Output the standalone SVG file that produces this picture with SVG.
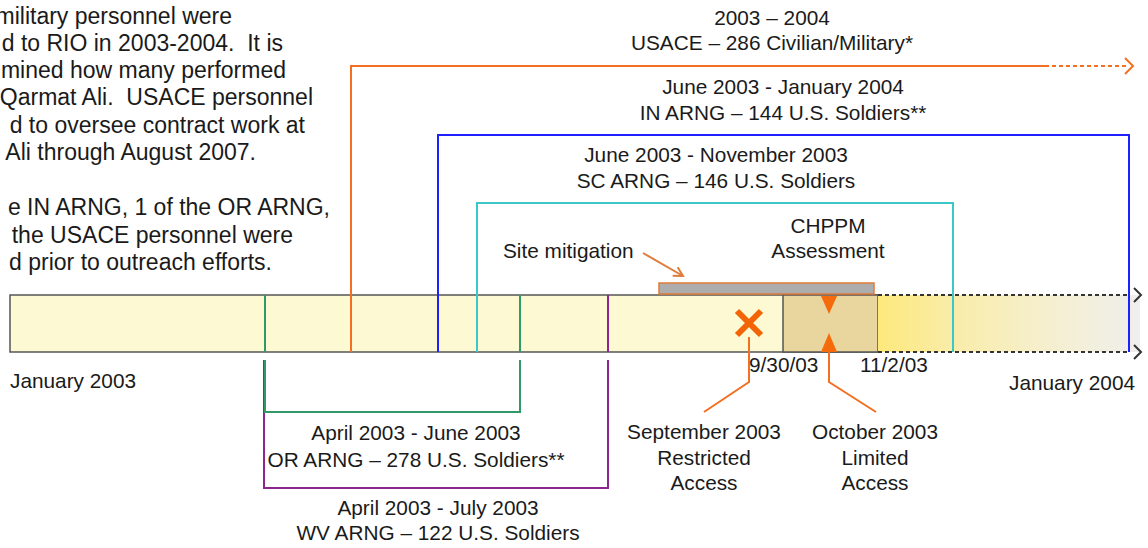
<svg xmlns="http://www.w3.org/2000/svg" width="1148" height="548" viewBox="0 0 1148 548">
<style>
text{font-family:"Liberation Sans",Arial,sans-serif;font-size:20.8px;fill:#1a1a1a}
.p{font-size:23px;text-anchor:end;white-space:pre}
.c{text-anchor:middle}
.ln{fill:none;stroke-width:2}
.or{stroke:#f36f21}
.bl{stroke:#1f1fff}
.cy{stroke:#3cc8c8}
.gr{stroke:#2f9a68}
.pu{stroke:#8e2490}
.dot{fill:none;stroke:#333;stroke-width:2;stroke-dasharray:4 3}
.chev{fill:none;stroke:#333;stroke-width:2}
</style>
<defs>
<linearGradient id="fade" x1="878" y1="0" x2="1140" y2="0" gradientUnits="userSpaceOnUse">
<stop offset="0" stop-color="#fde97c"/>
<stop offset="0.28" stop-color="#f9eca8"/>
<stop offset="0.65" stop-color="#f5efcf"/>
<stop offset="0.95" stop-color="#f0efe8"/>
<stop offset="1" stop-color="#efefef"/>
</linearGradient>
<marker id="openArrow" viewBox="0 0 12 12" refX="10" refY="6" markerWidth="12" markerHeight="12" markerUnits="userSpaceOnUse" orient="auto">
<path d="M1,1 L10,6 L1,11" fill="none" stroke="#e07b39" stroke-width="2"/>
</marker>
</defs>
<rect width="1148" height="548" fill="#fff"/>

<g id="note">
<text class="p" x="232" y="24">military personnel were</text>
<text class="p" x="283" y="51">d to RIO in 2003-2004.  It is</text>
<text class="p" x="286" y="78">mined how many performed</text>
<text class="p" x="313" y="105">Qarmat Ali.  USACE personnel</text>
<text class="p" x="305" y="133">d to oversee contract work at</text>
<text class="p" x="256" y="160">Ali through August 2007.</text>
<text class="p" x="330" y="215">e IN ARNG, 1 of the OR ARNG,</text>
<text class="p" x="293" y="243"> the USACE personnel were</text>
<text class="p" x="272" y="270">d prior to outreach efforts.</text>
</g>

<g id="timeline">
<rect x="10" y="295" width="868" height="57" fill="#fdfad3" stroke="#555" stroke-width="1.5"/>
<rect x="783" y="295" width="95" height="57" fill="#e9d69f" stroke="#555" stroke-width="1.5"/>
<rect x="878" y="295" width="262" height="57" fill="url(#fade)"/>
<text x="10" y="388">January 2003</text>
<text x="1009" y="390">January 2004</text>
<text x="749" y="372">9/30/03</text>
<text x="860" y="372">11/2/03</text>
</g>

<g id="connectors">
<path class="ln pu" d="M608,295 V352 M608,360 V488 H264 V360"/>
<path class="ln gr" d="M265,295 V352 M265,360 V412 H520 V360 M520,295 V352"/>
<path class="ln or" d="M351,352 V66 H1045"/>
<path class="ln or" d="M1045,66 H1126" stroke-dasharray="4 3"/>
<path class="ln or" d="M1125,58 L1133,66 L1125,74" stroke-width="2.5"/>
<path class="ln bl" d="M438,352 V135 H1129 V352"/>
<path class="ln cy" d="M477,352 V203 H953 V352"/>
<path class="dot" d="M878,295 H1128 M878,352 H1128"/>
<path class="chev" d="M1134,288 L1141,295 L1134,302 M1134,345 L1141,352 L1134,359"/>
<path class="ln" stroke="#e07b39" d="M643,253 L683,276" marker-end="url(#openArrow)"/>
<path class="ln or" d="M749,337 V382 L704,412"/>
<path class="ln or" d="M829,352 V382 L876,412"/>
</g>

<g id="usace">
<text class="c" x="772" y="25">2003 – 2004</text>
<text class="c" x="772" y="50">USACE – 286 Civilian/Military*</text>
</g>
<g id="in-arng">
<text class="c" x="783" y="94">June 2003 - January 2004</text>
<text class="c" x="783" y="120">IN ARNG – 144 U.S. Soldiers**</text>
</g>
<g id="sc-arng">
<text class="c" x="716" y="162">June 2003 - November 2003</text>
<text class="c" x="716" y="188">SC ARNG – 146 U.S. Soldiers</text>
</g>
<g id="or-arng">
<text class="c" x="416" y="440">April 2003 - June 2003</text>
<text class="c" x="416" y="467">OR ARNG – 278 U.S. Soldiers**</text>
</g>
<g id="wv-arng">
<text class="c" x="438" y="515">April 2003 - July 2003</text>
<text class="c" x="438" y="540">WV ARNG – 122 U.S. Soldiers</text>
</g>

<g id="site-mitigation">
<text x="503" y="258">Site mitigation</text>
<rect x="659" y="283" width="215" height="11" fill="#adadad" stroke="#e07b39" stroke-width="1.5"/>
</g>
<g id="chppm">
<text class="c" x="828" y="233">CHPPM</text>
<text class="c" x="828" y="258">Assessment</text>
<polygon points="821,296 837,296 829,314" fill="#f56a0a"/>
<polygon points="821,352 837,352 829,333" fill="#f56a0a"/>
</g>
<g id="restricted">
<path d="M737,311 L761,335 M761,311 L737,335" stroke="#f26405" stroke-width="6" fill="none"/>
<text class="c" x="704" y="439">September 2003</text>
<text class="c" x="704" y="465">Restricted</text>
<text class="c" x="704" y="490">Access</text>
</g>
<g id="limited">
<text class="c" x="875" y="439">October 2003</text>
<text class="c" x="875" y="465">Limited</text>
<text class="c" x="875" y="490">Access</text>
</g>
</svg>
